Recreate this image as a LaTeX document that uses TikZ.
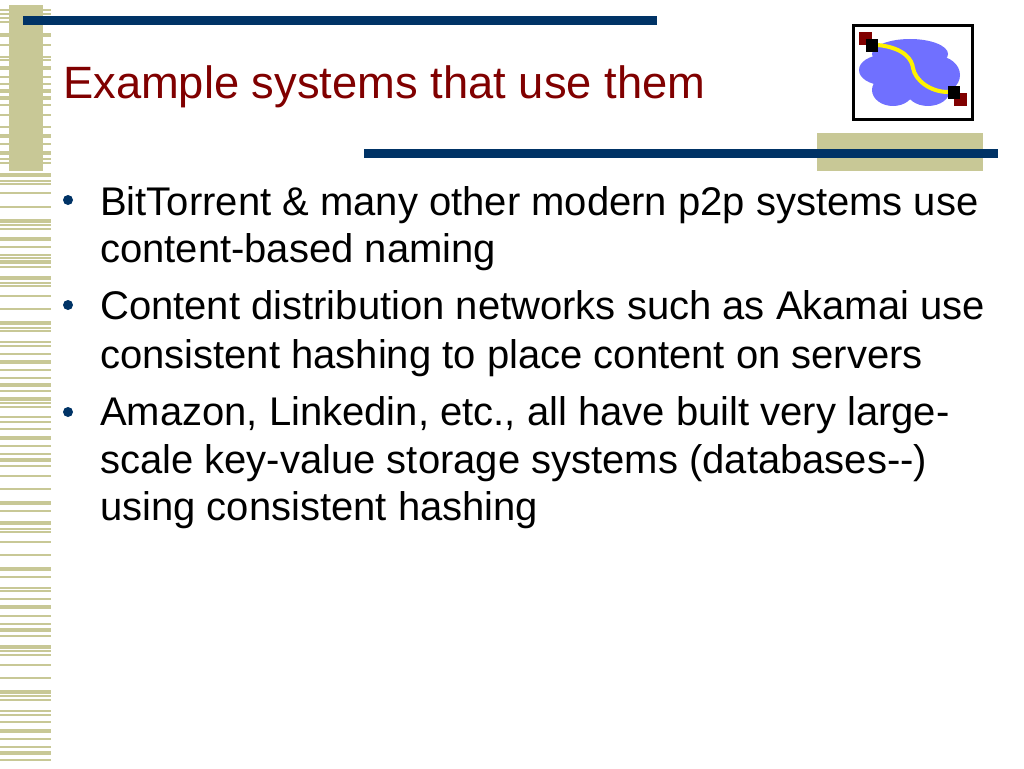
\documentclass[tikz,border=0pt]{standalone}
\usepackage{fontspec}
\setmainfont{Liberation Sans}
\definecolor{khaki}{HTML}{C8C896}
\definecolor{navy}{HTML}{003366}
\definecolor{titlered}{HTML}{800000}
\definecolor{cloudblue}{HTML}{7070FF}
\tikzset{body/.style={anchor=base west,inner sep=0pt,font=\fontsize{40}{40}\selectfont},
  thin stripe/.style={khaki,line width=1.5pt},
  thick stripe/.style={khaki,line width=3.6pt}}
\begin{document}
\begin{tikzpicture}[x=1pt,y=-1pt]
\useasboundingbox (0,0) rectangle (1024,768);
% stripes
\foreach \y in {10,14,18,22,45,57,60,77,84,105,115,127,144,159,163,181,184,193,207,225,229,247,255,258,267,283,286,296,309,328,331,342,346,354,370,378,391,403,407,417,422,429,446,454,466,476,489,511,529,532,542,555,577,588,591,599,616,624,636,651,655,665,678,696,700,711,715,722,739,747,760}
  \draw[thin stripe] (0,\y) -- (51,\y);
\foreach \y in {35,68,91,98,136,153,175,221,239,262,278,323,362,385,399,438,460,503,523,569,607,630,647,692,731,753}
  \draw[thick stripe] (0,\y) -- (51,\y);
% bars
\fill[khaki] (9,5) rectangle (43,171);
\fill[khaki] (817,133) rectangle (983,171);
\fill[navy] (23,16) rectangle (657,25);
\fill[navy] (364,149) rectangle (998,158);
% logo
\draw[black,line width=3pt] (853.5,25.5) rectangle (972,119.5);
\fill[cloudblue] (910,54) ellipse (38 and 15);
\fill[cloudblue] (883,70) ellipse (24 and 15);
\fill[cloudblue] (937,75) ellipse (23 and 19);
\fill[cloudblue] (893,90) ellipse (21 and 16);
\fill[cloudblue] (928,90) ellipse (22 and 16);
\fill[cloudblue] (908,72) ellipse (30 and 22);
\draw[yellow,line width=4pt] (878,45) .. controls (905,48) and (912,60) .. (913,68) .. controls (915,80) and (930,92) .. (948,92);
\fill[titlered] (859,32) rectangle (872,45);
\fill[black] (866,39) rectangle (878,52);
\fill[titlered] (954,93) rectangle (967,106);
\fill[black] (948,86) rectangle (960,99);
% title
\node[anchor=base west,inner sep=0pt,text=titlered,font=\fontsize{45.3}{45.3}\selectfont] (title) at (63,98) {Example systems that use them};
% bullets
\fill[navy] (68,200) circle (5);
\fill[navy] (68,305) circle (5);
\fill[navy] (68,412) circle (5);
\node[body] (l1) at (100,215.5) {BitTorrent \& many other modern p2p systems use};
\node[body] (l2) at (100,262.5) {content-based naming};
\node[body] (l3) at (100,319.5) {Content distribution networks such as Akamai use};
\node[body] (l4) at (100,368.5) {consistent hashing to place content on servers};
\node[body] (l5) at (100,425.5) {Amazon, Linkedin, etc., all have built very large-};
\node[body] (l6) at (100,473.5) {scale key-value storage systems (databases{-}{-})};
\node[body] (l7) at (100,520.5) {using consistent hashing};
\end{tikzpicture}
\end{document}
